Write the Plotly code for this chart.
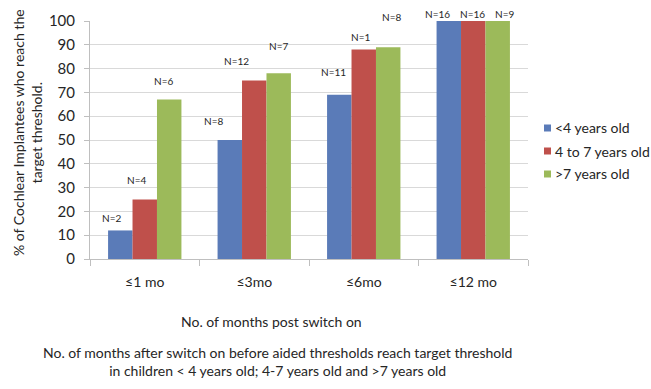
import plotly.graph_objects as go

# Time since switch-on (categories)
categories = ["≤1 mo", "≤3mo", "≤6mo", "≤12 mo"]

# % of implantees reaching target threshold, per age group
under_4 = [12, 50, 69, 100]
age_4_to_7 = [25, 75, 88, 100]
over_7 = [67, 78, 89, 100]

# Number of children behind each bar
n_under_4 = [2, 8, 11, 16]
n_4_to_7 = [4, 12, 1, 16]
n_over_7 = [6, 7, 8, 9]

series_names = ["<4 years old", "4 to 7 years old", ">7 years old"]
colors = ["#5A7BB8", "#BF504B", "#9CBA5A"]

y_ticks = [0, 10, 20, 30, 40, 50, 60, 70, 80, 90, 100]

FONT = "Lato"
TEXT = "#262626"

fig = go.Figure()
for name, vals, col in zip(series_names, [under_4, age_4_to_7, over_7], colors):
    fig.add_trace(go.Bar(
        x=categories, y=vals, name=name, showlegend=False,
        marker=dict(color=col, line=dict(width=0)),
    ))

# N= labels: pixel nudges per series/category relative to each bar top
bar_px = 24.5
x_nudge = [[-9, -16, -6, -11], [-8, -18, -3, -1], [-6, 0, 3, 7]]
y_nudge = [[12, 19, 23, 7], [20, 20, 13, 7], [19, 27, 30, 7]]
counts = [n_under_4, n_4_to_7, n_over_7]
values = [under_4, age_4_to_7, over_7]
for s in range(3):
    for i, cat in enumerate(categories):
        fig.add_annotation(
            x=cat, y=values[s][i], xref="x", yref="y",
            text=f"N={counts[s][i]}", showarrow=False,
            xshift=(s - 1) * bar_px + x_nudge[s][i],
            yshift=y_nudge[s][i],
            font=dict(family=FONT, size=10, color=TEXT),
        )

# Legend: small colour squares with labels to the right of the plot
PLOT_W, PLOT_H = 438, 238
leg_x0 = 544
leg_rows = [128, 151, 174]
for name, col, row in zip(series_names, colors, leg_rows):
    x0 = (leg_x0 - 90) / PLOT_W
    x1 = (leg_x0 + 7 - 90) / PLOT_W
    y0 = (259 - (row + 3.5)) / PLOT_H
    y1 = (259 - (row - 3.5)) / PLOT_H
    fig.add_shape(type="rect", xref="paper", yref="paper",
                  x0=x0, x1=x1, y0=y0, y1=y1,
                  fillcolor=col, line=dict(width=0))
    fig.add_annotation(
        text=name, xref="paper", yref="paper",
        x=(leg_x0 + 9 - 90) / PLOT_W, y=(259 - row) / PLOT_H,
        xanchor="left", yanchor="middle", showarrow=False,
        font=dict(family=FONT, size=14, color=TEXT),
    )

# Axis titles and caption
fig.add_annotation(
    text="% of Cochlear Implantees who reach the<br>target threshold.",
    xref="paper", yref="paper", x=(27 - 90) / PLOT_W, y=(259 - 133) / PLOT_H,
    xanchor="center", yanchor="middle", textangle=-90, showarrow=False,
    font=dict(family=FONT, size=14, color=TEXT),
)
fig.add_annotation(
    text="No. of months post switch on",
    xref="paper", yref="paper", x=(271 - 90) / PLOT_W, y=-(321 - 259) / PLOT_H,
    xanchor="center", yanchor="middle", showarrow=False,
    font=dict(family=FONT, size=14, color=TEXT),
)
fig.add_annotation(
    text="No. of months after switch on before aided thresholds reach target threshold<br>"
         "in children &lt; 4 years old; 4-7 years old and &gt;7 years old",
    xref="paper", yref="paper", x=(277 - 90) / PLOT_W, y=-(361 - 259) / PLOT_H,
    xanchor="center", yanchor="middle", showarrow=False, align="center",
    font=dict(family=FONT, size=14, color=TEXT),
)

fig.update_layout(
    width=651, height=389,
    margin=dict(l=90, r=123, t=21, b=130),
    paper_bgcolor="white", plot_bgcolor="white",
    barmode="group", bargap=0.33, bargroupgap=0,
    font=dict(family=FONT, size=14, color=TEXT),
    showlegend=False,
    xaxis=dict(
        showline=True, linecolor="#BFBFBF", linewidth=1,
        ticks="outside", tickson="boundaries", ticklen=6, tickcolor="#BFBFBF",
        tickfont=dict(family=FONT, size=14, color=TEXT),
        ticklabelstandoff=10,
    ),
    yaxis=dict(
        range=[0, 100], tickvals=y_ticks,
        showgrid=True, gridcolor="#D9D9D9", gridwidth=1,
        showline=True, linecolor="#BFBFBF", linewidth=1,
        ticks="outside", ticklen=5, tickcolor="#BFBFBF",
        tickfont=dict(family=FONT, size=15, color=TEXT),
        ticklabelstandoff=6,
        zeroline=False,
    ),
)

fig.write_html("out.html")
